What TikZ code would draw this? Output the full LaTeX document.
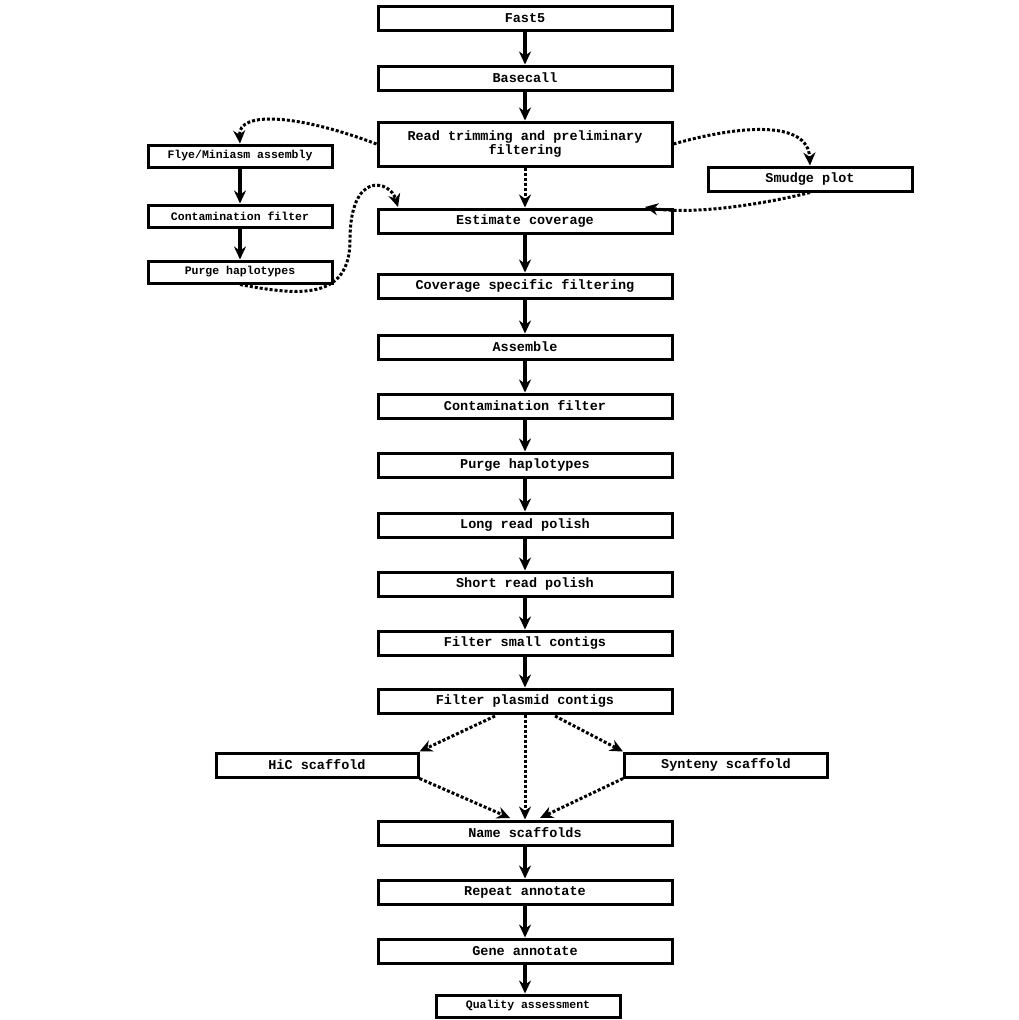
\documentclass[tikz,border=0pt]{standalone}
\usepackage{fontspec}
\setmonofont{Liberation Mono}
\usetikzlibrary{arrows.meta}
\begin{document}
\begin{tikzpicture}[x=1pt,y=-1pt,
  box/.style={draw,line width=3pt,minimum height=24pt,inner sep=1pt,font=\ttfamily\bfseries\fontsize{13.5}{14}\selectfont,align=center},
  main/.style={box,minimum width=294pt},
  side/.style={box,minimum width=184pt,minimum height=22pt,font=\ttfamily\bfseries\fontsize{11.5}{11.5}\selectfont},
  arr/.style={line width=3.2pt,-{Stealth[length=13pt,width=12pt]}},
  darr/.style={line width=3pt,dotted,-{Stealth[length=13pt,width=12pt]}}]
\useasboundingbox (0,0) rectangle (1019,1020);
\node[main] (f5) at (525,18) {Fast5};
\node[main] (bc) at (525,78) {Basecall};
\node[main,minimum height=44pt] (rt) at (525,144) {Read trimming and preliminary\\filtering};
\node[main] (ec) at (525,221) {Estimate coverage};
\node[main] (cs) at (525,286) {Coverage specific filtering};
\node[main] (as) at (525,347) {Assemble};
\node[main] (cf) at (525,406) {Contamination filter};
\node[main] (ph) at (525,465) {Purge haplotypes};
\node[main] (lr) at (525,525) {Long read polish};
\node[main] (sr) at (525,584) {Short read polish};
\node[main] (fs) at (525,643) {Filter small contigs};
\node[main] (fp) at (525,701) {Filter plasmid contigs};
\node[main] (ns) at (525,833) {Name scaffolds};
\node[main] (ra) at (525,892) {Repeat annotate};
\node[main] (ga) at (525,951) {Gene annotate};
\node[side,minimum height=22pt] (qa) at (528,1006) {Quality assessment};
\node[side] (fl) at (240,156) {Flye/Miniasm assembly};
\node[side] (lcf) at (240,216) {Contamination filter};
\node[side] (lph) at (240,272) {Purge haplotypes};
\node[box,minimum width=204pt] (sm) at (810,179) {Smudge plot};
\node[box,minimum width=202pt] (hic) at (317,765) {HiC scaffold};
\node[box,minimum width=203pt] (syn) at (726,765) {Synteny scaffold};
\foreach \a/\b in {f5/bc,bc/rt,ec/cs,cs/as,as/cf,cf/ph,ph/lr,lr/sr,sr/fs,fs/fp,ns/ra,ra/ga,fl/lcf,lcf/lph}
  \draw[arr] (\a) -- (\b);
\draw[arr] (ga.south) -- (ga.south |- qa.north);
\draw[darr] (rt) -- (ec);
\draw[darr] (rt.west) .. controls (300,115) and (238,110) .. (fl.north);
\draw[darr] (rt.east) .. controls (740,125) and (808,120) .. (sm.north);
\draw[darr] (sm.south) .. controls (760,205) and (690,215) .. (645,207);
\draw[darr] (lph.south) .. controls (300,296) and (350,300) .. (350,240) .. controls (350,170) and (390,180) .. (398,207);
\draw[darr] (fp.south) -- (ns.north);
\draw[darr] (495,716) -- (hic.north east);
\draw[darr] (555,716) -- (syn.north west);
\draw[darr] (hic.south east) -- (510,818);
\draw[darr] (syn.south west) -- (540,818);
\end{tikzpicture}
\end{document}
